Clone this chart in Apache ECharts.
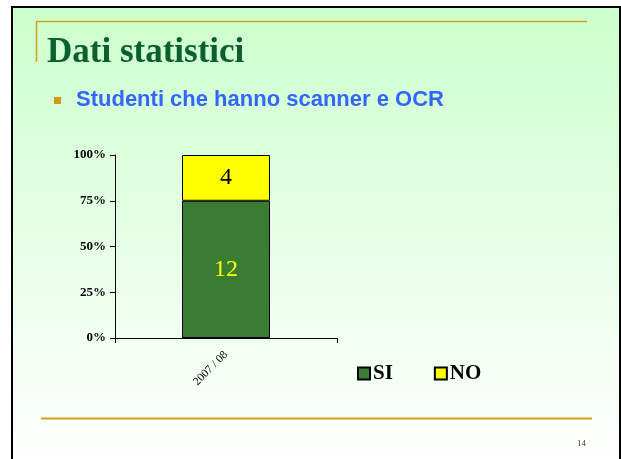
<!DOCTYPE html>
<html>
<head>
<meta charset="utf-8">
<script src="https://cdn.jsdelivr.net/npm/echarts@6/dist/echarts.min.js"></script>
<style>
html,body{margin:0;padding:0;background:#fff;}
#chart{width:621px;height:459px;}
</style>
</head>
<body>
<div id="chart"></div>
<script>
// Data
var categories = ['2007 / 08'];
var seriesNames = ['SI', 'NO'];
var countsSI = [12];
var countsNO = [4];
var yTicks = [0, 25, 50, 75, 100];

// 100% stacked shares derived from counts
var totals = categories.map(function (_, i) { return countsSI[i] + countsNO[i]; });
var pctSI = countsSI.map(function (v, i) { return v / totals[i] * 100; });
var pctNO = countsNO.map(function (v, i) { return v / totals[i] * 100; });

var chart = echarts.init(document.getElementById('chart'));
var serif = '"Liberation Serif", "Times New Roman", serif';

chart.setOption({
  backgroundColor: '#ffffff',
  animation: false,
  graphic: [
    {
      type: 'rect', z: -10, silent: true,
      shape: { x: 12, y: 7, width: 608, height: 460 },
      style: {
        fill: new echarts.graphic.LinearGradient(0, 0, 0, 1, [
          { offset: 0, color: '#ccffcc' },
          { offset: 0.9, color: '#fafffa' },
          { offset: 1, color: '#ffffff' }
        ]),
        stroke: '#000', lineWidth: 2
      }
    },
    { type: 'line', silent: true, shape: { x1: 36, y1: 21.5, x2: 587, y2: 21.5 }, style: { stroke: '#d4a017', lineWidth: 1.5 } },
    { type: 'line', silent: true, shape: { x1: 36.5, y1: 21, x2: 36.5, y2: 62 }, style: { stroke: '#d4a017', lineWidth: 1.5 } },
    { type: 'line', silent: true, shape: { x1: 41, y1: 418.5, x2: 592, y2: 418.5 }, style: { stroke: '#d4a017', lineWidth: 2 } },
    {
      type: 'text', silent: true, left: 47, top: 35,
      style: { text: 'Dati statistici', font: 'bold 35px ' + serif, fill: '#0b5e2e' }
    },
    { type: 'rect', silent: true, shape: { x: 54, y: 97, width: 7, height: 7 }, style: { fill: '#d19a0e' } },
    {
      type: 'text', silent: true, left: 76, top: 89,
      style: { text: 'Studenti che hanno scanner e OCR', font: 'bold 22px "Liberation Sans", Arial, sans-serif', fill: '#3366ff' }
    },
    {
      type: 'text', silent: true, left: 577, top: 439,
      style: { text: '14', font: '9px ' + serif, fill: '#444' }
    }
  ],
  grid: { left: 115, right: 284, top: 155, bottom: 121, containLabel: false },
  legend: {
    data: seriesNames,
    left: 352, top: 358,
    itemWidth: 12, itemHeight: 12, itemGap: 41,
    icon: 'rect',
    textStyle: { fontFamily: serif, fontWeight: 'bold', fontSize: 21, color: '#000', padding: [0, 0, 0, -2] }
  },
  xAxis: {
    type: 'category',
    data: categories,
    axisLine: { lineStyle: { color: '#000', width: 1 } },
    axisTick: { show: true, alignWithLabel: false, length: 5, lineStyle: { color: '#000' } },
    axisLabel: { rotate: 45, margin: 15, fontFamily: serif, fontSize: 11.5, color: '#000' }
  },
  yAxis: {
    type: 'value',
    min: yTicks[0], max: yTicks[yTicks.length - 1], interval: 25,
    axisLine: { show: true, lineStyle: { color: '#000', width: 1 } },
    axisTick: { show: true, length: 5, lineStyle: { color: '#000' } },
    splitLine: { show: false },
    axisLabel: { formatter: '{value}%', fontFamily: serif, fontWeight: 'bold', fontSize: 13, color: '#000', margin: 9 }
  },
  series: [
    {
      name: seriesNames[0], type: 'bar', stack: 'total', barWidth: 88,
      data: pctSI,
      itemStyle: { color: '#3a7d32', borderColor: '#000', borderWidth: 1 },
      label: {
        show: true, position: 'inside',
        formatter: function (p) { return countsSI[p.dataIndex]; },
        fontFamily: serif, fontSize: 24, color: '#ffff00'
      }
    },
    {
      name: seriesNames[1], type: 'bar', stack: 'total', barWidth: 88,
      data: pctNO,
      itemStyle: { color: '#ffff00', borderColor: '#000', borderWidth: 1 },
      label: {
        show: true, position: 'inside',
        formatter: function (p) { return countsNO[p.dataIndex]; },
        fontFamily: serif, fontSize: 24, color: '#000'
      }
    }
  ]
});
</script>
</body>
</html>
